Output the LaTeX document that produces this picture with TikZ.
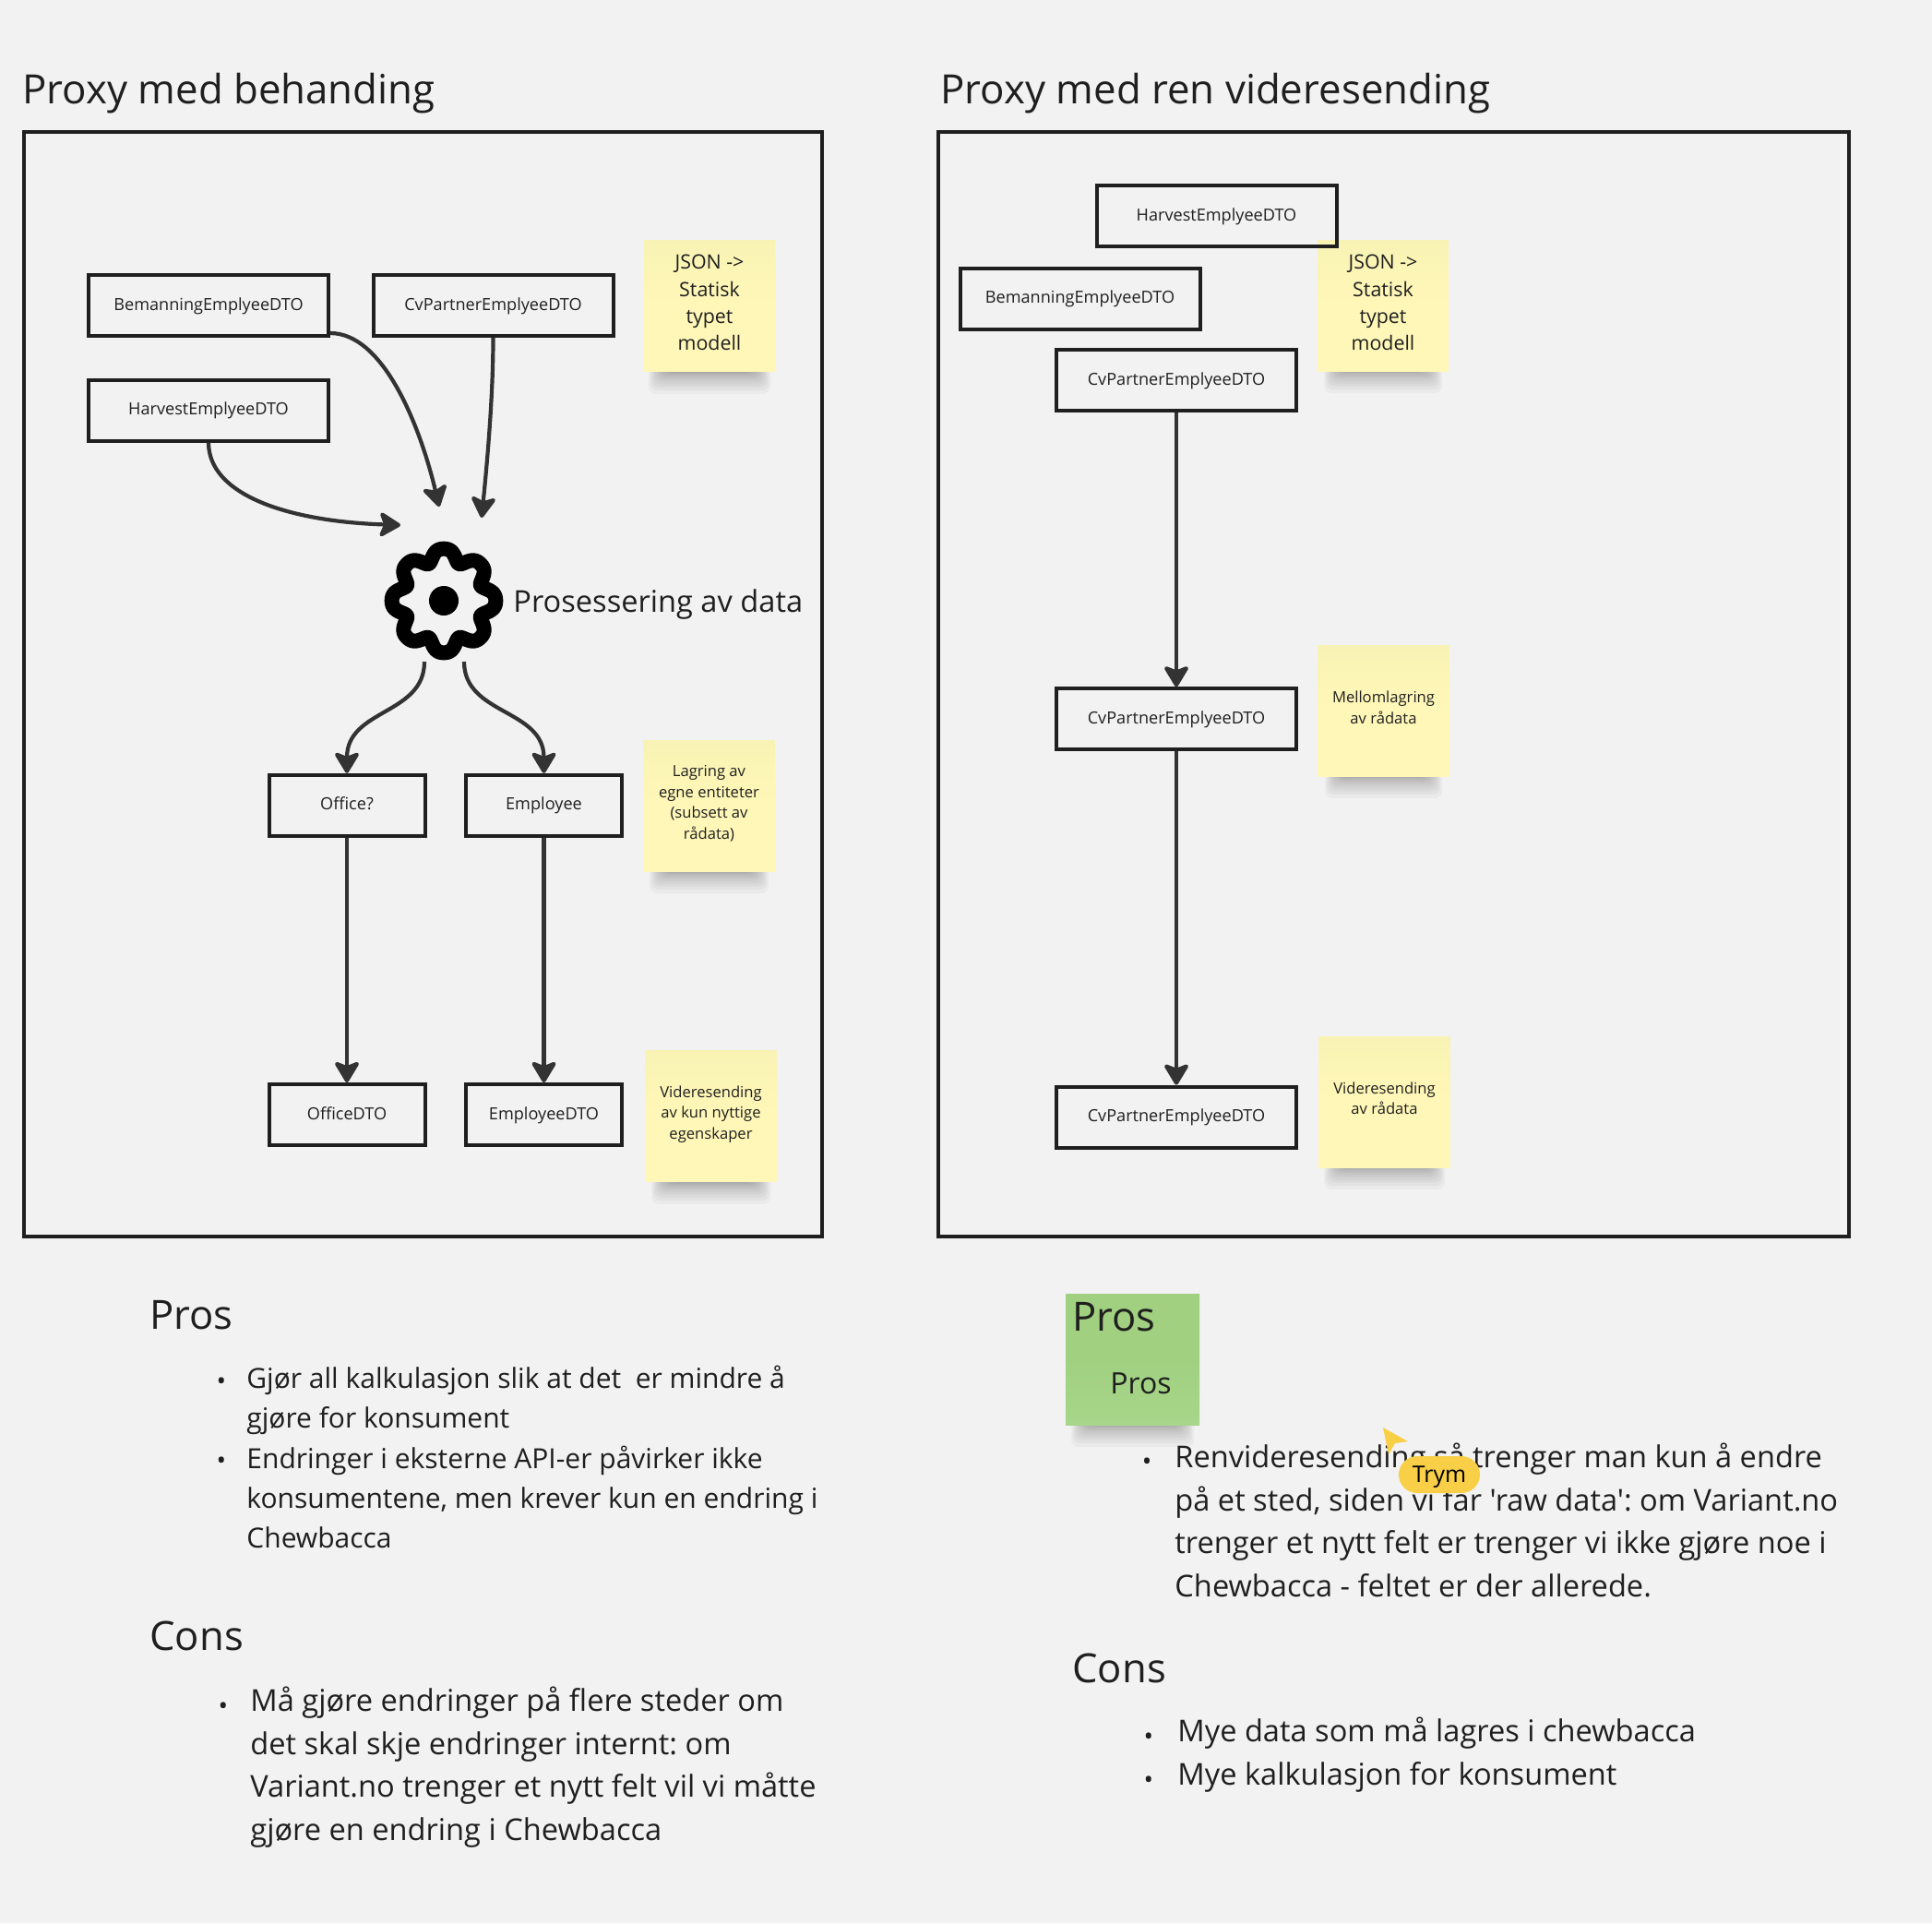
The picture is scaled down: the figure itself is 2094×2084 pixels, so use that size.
\documentclass[tikz,border=0pt]{standalone}
\usepackage{fontspec}
\newfontfamily\osf{Open Sans}
\frenchspacing
\usetikzlibrary{arrows.meta}
\definecolor{bg}{HTML}{F2F2F2}
\definecolor{ink}{HTML}{1F1F1F}
\definecolor{arrowc}{HTML}{333333}
\definecolor{stickyA}{HTML}{F8F3B4}
\definecolor{stickyB}{HTML}{FFF7B8}
\definecolor{greenA}{HTML}{A0D080}
\definecolor{greenB}{HTML}{A8D68A}
\definecolor{cursor}{HTML}{F9CF47}
\newcommand{\fsz}[2]{\osf\fontsize{#1pt}{#2pt}\selectfont}
\newcommand{\stickshadow}[3]{%
  \foreach \i in {0,...,11}{%
    \fill[black,opacity=.033,rounded corners=4pt]
      ({#1+6+1.8*\i},{#3-10}) rectangle ({#2-6-1.8*\i},{#3+24*(1-\i/12)*(1-\i/12)});}}
\tikzset{
  x=0.5pt,y=-0.5pt,
  frame/.style={draw=ink,line width=1.75pt},
  dto/.style={draw=ink,line width=2pt,minimum height=33pt,inner sep=0pt,text=ink,text height=7pt,text depth=2pt,font=\fsz{9.06}{11}},
  widedto/.style={dto,minimum width=130pt},
  narrowdto/.style={dto,minimum width=84.5pt},
  sticky/.style={top color=stickyA,bottom color=stickyB,middle color=stickyB,minimum width=71pt,minimum height=71pt,inner sep=0pt,align=center,text=ink},
  stickybig/.style={sticky,font=\fsz{10.7}{14.7}},
  stickysmall/.style={sticky,font=\fsz{8.3}{11.3}},
  conn/.style={draw=arrowc,line width=2.1pt,-{Stealth[length=13pt,width=15.5pt,inset=3pt,round]}},
  title/.style={anchor=north west,inner sep=0pt,text=ink,font=\fsz{21.9}{27}},
  head/.style={anchor=north west,inner sep=0pt,text=ink,font=\fsz{21.8}{26}},
  bodyA/.style={anchor=north west,inner sep=0pt,align=left,text=ink,font=\fsz{15}{21.55}},
  bodyB/.style={anchor=north west,inner sep=0pt,align=left,text=ink,font=\fsz{16.3}{23.2}},
  dot/.style={anchor=center,inner sep=0pt,text=ink,font=\fsz{14}{14}},
}
\begin{document}
\begin{tikzpicture}
\useasboundingbox (0,0) rectangle (2094,2084);
\fill[bg] (0,0) rectangle (2094,2084);

% titles and frames
\node[title] (t1) at (24,79) {Proxy med behanding};
\node[title] (t2) at (1019,79) {Proxy med ren videresending};
\draw[frame] (26,143) rectangle (891,1340);
\draw[frame] (1017,143) rectangle (2004,1340);

% stickies
\stickshadow{697}{841}{403}
\stickshadow{1429}{1569}{402}
\stickshadow{698}{839}{944}
\stickshadow{700}{841}{1281}
\stickshadow{1430}{1569}{841}
\stickshadow{1429}{1572}{1265}
\stickshadow{1155}{1300}{1544}
\node[stickybig] (s1) at (769,331) {JSON ->\\Statisk\\typet\\modell\\[-11.7pt]};
\node[stickybig] (s2) at (1499,331) {JSON ->\\Statisk\\typet\\modell\\[-11.7pt]};
\node[stickysmall] (s3) at (768.5,873.5) {Lagring av\\egne entiteter\\(subsett av\\rådata)\\[-7.3pt]};
\node[stickysmall] (s4) at (770.5,1209.5) {Videresending\\av kun nyttige\\egenskaper\\[-7.3pt]};
\node[stickysmall] (s5) at (1499.5,770.5) {Mellomlagring\\av rådata\\[-7.3pt]};
\node[stickysmall] (s6) at (1500.5,1194) {Videresending\\av rådata\\[-7.3pt]};
\node[sticky,top color=greenA,bottom color=greenB,middle color=greenA,minimum width=72.5pt] (s7) at (1227.5,1473) {};

% left diagram boxes
\node[widedto] (bem) at (226,331) {BemanningEmplyeeDTO};
\node[widedto] (cv) at (534.5,331) {CvPartnerEmplyeeDTO};
\node[widedto] (har) at (226,444.5) {HarvestEmplyeeDTO};
\node[narrowdto] (off) at (376,872.8) {Office?};
\node[narrowdto] (emp) at (589.5,872.8) {Employee};
\node[narrowdto] (offd) at (376,1208) {OfficeDTO};
\node[narrowdto] (empd) at (589.5,1208) {EmployeeDTO};

% gear
\draw[black,line width=8pt,line join=round] plot[domain=0:360,samples=321]
  ({481+(51+6.5*cos(8*\x)-1.2*cos(16*\x))*cos(\x)},{651+(51+6.5*cos(8*\x)-1.2*cos(16*\x))*sin(\x)}) -- cycle;
\fill[black] (481,651) circle[radius=16];
\node[anchor=west,inner sep=0pt,text=ink,font=\fsz{16.3}{20}] (proc) at (556,655) {Prosessering av data};

\coordinate (inA) at (476,549);
\coordinate (inB) at (522,561);
\coordinate (inC) at (434,569);
\coordinate (outA) at (460,717);
\coordinate (outB) at (503,717);
\coordinate (bemOut) at (358,361);

\draw[conn] (bemOut) .. controls +(57,0) and +(-21,-89) .. (inA);
\draw[conn] (cv.south) .. controls +(0,64) and +(6,-60) .. (inB);
\draw[conn] (har.south) .. controls +(0,56) and +(-124,-4) .. (inC);
\draw[conn] (outA) .. controls +(0,58) and +(0,-70) .. (off.north);
\draw[conn] (outB) .. controls +(0,58) and +(0,-70) .. (emp.north);
\draw[conn] (off.south) -- (offd.north);
\draw[conn] (emp.south) -- (empd.north);

% right diagram boxes
\node[widedto] (rhar) at (1318.5,234.4) {HarvestEmplyeeDTO};
\node[widedto] (rbem) at (1170.5,323.9) {BemanningEmplyeeDTO};
\node[widedto] (rcva) at (1275,412) {CvPartnerEmplyeeDTO};
\node[widedto] (rcvb) at (1275,779.3) {CvPartnerEmplyeeDTO};
\node[widedto] (rcvc) at (1275,1210.6) {CvPartnerEmplyeeDTO};
\draw[conn] (rcva.south) -- (rcvb.north);
\draw[conn] (rcvb.south) -- (rcvc.north);

% left text
\node[head] (p1) at (162,1409) {Pros};
\node[dot] (b1) at (240,1500) {•};
\node[dot] (b2) at (240,1586) {•};
\node[bodyA] (l1) at (267,1480) {Gjør all kalkulasjon slik at det\ \ er mindre å\\gjøre for konsument\\Endringer i eksterne API-er påvirker ikke\\konsumentene, men krever kun en endring i\\Chewbacca};
\node[head] (c1) at (162,1757) {Cons};
\node[dot] (b3) at (242,1852) {•};
\node[bodyB] (l2) at (271,1828) {Må gjøre endringer på flere steder om\\det skal skje endringer internt: om\\Variant.no trenger et nytt felt vil vi måtte\\gjøre en endring i Chewbacca};

% right text
\node[head] (p2) at (1162,1411) {Pros};
\node[anchor=north west,inner sep=0pt,text=ink,font=\fsz{16}{20}] (p3) at (1203,1487) {Pros};
\node[dot] (b4) at (1243,1587) {•};
\node[bodyB] (r1) at (1273,1564) {Renvideresending så trenger man kun å endre\\på et sted, siden vi får 'raw data': om Variant.no\\trenger et nytt felt er trenger vi ikke gjøre noe i\\Chewbacca - feltet er der allerede.};
\node[head] (c2) at (1162,1792) {Cons};
\node[dot] (b5) at (1245,1885) {•};
\node[dot] (b6) at (1245,1932) {•};
\node[bodyB] (r2) at (1276,1861) {Mye data som må lagres i chewbacca\\Mye kalkulasjon for konsument};

% cursor
\fill[cursor] (1499,1547) -- (1526,1562) -- (1512,1564) -- (1505,1576) -- cycle;
\node[fill=cursor,rounded corners=10pt,minimum width=44pt,minimum height=20pt,inner sep=0pt,text=black,text depth=0pt,font=\fsz{12.4}{16}] (trym) at (1560,1598) {Trym};
\end{tikzpicture}
\end{document}
